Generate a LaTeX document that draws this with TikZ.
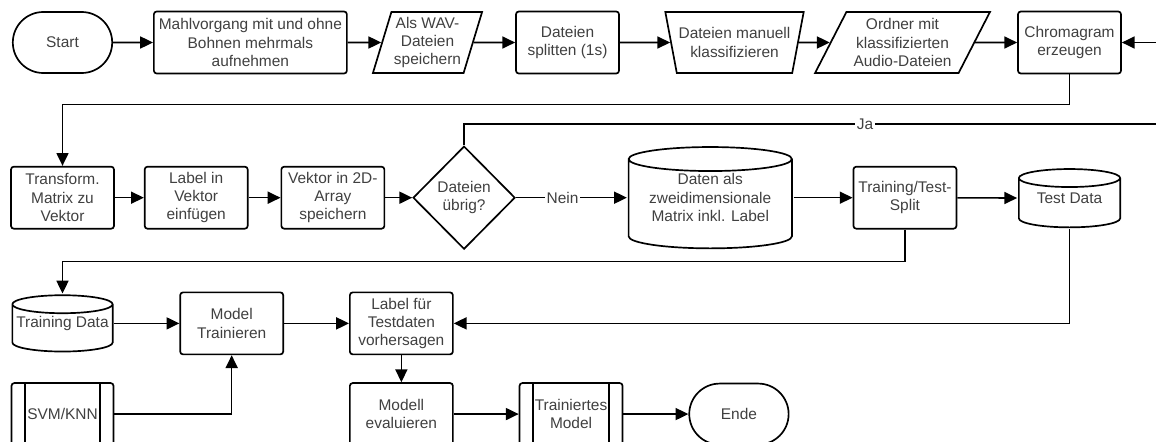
\documentclass[tikz,border=0pt]{standalone}
\usepackage{fontspec}
\setmainfont{Liberation Sans}
\usetikzlibrary{
    arrows.meta,
    calc,
    positioning,
    shapes.geometric,
    shapes.misc
}
\tikzstyle{base} = [draw=black, line width=1.2pt, text=black!75, font=\fontsize{11}{13}\selectfont, align=center, inner sep=2pt]
\tikzstyle{term} = [base, rounded rectangle, minimum width=2.625cm, minimum height=1.525cm]
\tikzstyle{proc} = [base, rectangle, rounded corners=2pt, minimum width=2.575cm, minimum height=1.55cm]
\tikzstyle{io} = [base, trapezium, trapezium stretches=true, minimum height=1.525cm]
\tikzstyle{manual} = [base, trapezium, trapezium stretches=true, trapezium left angle=105.6, trapezium right angle=105.6, minimum width=3.475cm, minimum height=1.525cm, inner xsep=-0.16cm]
\tikzstyle{decide} = [base, diamond, minimum width=2.55cm, minimum height=2.575cm, inner sep=0pt]
\tikzstyle{subproc} = [proc, path picture={
    \draw[line width=1.2pt] ([xshift=0.34cm]path picture bounding box.north west) -- ([xshift=0.34cm]path picture bounding box.south west);
    \draw[line width=1.2pt] ([xshift=-0.34cm]path picture bounding box.north east) -- ([xshift=-0.34cm]path picture bounding box.south east);
}]
\tikzstyle{flow} = [line width=1.1pt, -{Triangle[length=3.2mm, width=3mm]}]
\tikzstyle{flowlabel} = [fill=white, inner sep=1pt, text=black!75, font=\fontsize{11}{13}\selectfont]
\tikzset{store/.style={base, draw=none, rectangle, path picture={
    \draw[line width=1.2pt] let \p1 = (path picture bounding box.north west), \p2 = (path picture bounding box.south east), \n1 = {(\x2-\x1)/2-0.6pt} in
        (\x1+0.6pt, \y1-#1-0.6pt) -- (\x1+0.6pt, \y2+#1+0.6pt)
        arc[start angle=180, end angle=360, x radius=\n1, y radius=#1]
        -- (\x2-0.6pt, \y1-#1-0.6pt)
        arc[start angle=0, end angle=360, x radius=\n1, y radius=#1];
}}}

\begin{document}
\begin{tikzpicture}
    \useasboundingbox (0,0) rectangle (28.9,-11.025);
    \clip (0,0) rectangle (28.9,-11.025);

    \node[term] (start) at (1.5625,-1.0625) {Start};
    \node[proc, minimum width=4.825cm] (mahl) [node distance=1cm, right=of start] {Mahlvorgang mit und ohne\\Bohnen mehrmals\\aufnehmen};
    \node[io, minimum width=2.75cm, trapezium left angle=71.8, trapezium right angle=108.2] (wav) at (10.6875,-1.0625) {Als WAV-\\Dateien\\speichern};
    \node[proc] (split) at (14.1875,-1.0625) {Dateien\\splitten (1s)};
    \node[manual] (manuell) at (18.3625,-1.0625) {Dateien manuell\\klassifizieren};
    \node[io, minimum width=4.375cm, trapezium left angle=61.6, trapezium right angle=118.4] (ordner) at (22.5625,-1.0625) {Ordner mit\\klassifizierten\\Audio-Dateien};
    \node[proc] (chroma) at (26.7375,-1.0625) {Chromagram\\erzeugen};

    \node[proc] (trans) [node distance=2.3cm, below=of start] {Transform.\\Matrix zu\\Vektor};
    \node[proc] (labvek) [node distance=0.725cm, right=of trans] {Label in\\Vektor\\einfügen};
    \node[proc] (vek2d) [node distance=0.8cm, right=of labvek] {Vektor in 2D-\\Array\\speichern};
    \node[decide] (dateien) [node distance=0.675cm, right=of vek2d] {Dateien\\übrig?};
    \node[store=0.3cm, minimum width=4.125cm, minimum height=2.575cm] (daten) [node distance=2.775cm, right=of dateien] {Daten als\\zweidimensionale\\Matrix inkl. Label};
    \node[proc] (ttsplit) [node distance=1.475cm, right=of daten] {Training/Test-\\Split};
    \node[store=0.225cm, minimum width=2.575cm, minimum height=1.5cm] (testd) [node distance=2.325cm, below=of chroma] {Test Data};

    \node[store=0.225cm, minimum width=2.55cm, minimum height=1.45cm] (traind) [node distance=1.6cm, below=of trans] {Training Data};
    \node[proc] (trainm) [node distance=1.625cm, right=of traind] {Model\\Trainieren};
    \node[proc] (predict) [node distance=1.625cm, right=of trainm] {Label für\\Testdaten\\vorhersagen};

    \node[subproc, minimum width=2.55cm] (svm) [node distance=0.725cm, below=of traind] {SVM/KNN};
    \node[proc] (evalm) [node distance=0.675cm, below=of predict] {Modell\\evaluieren};
    \node[subproc] (trmodel) [node distance=1.625cm, right=of evalm] {Trainiertes\\Model};
    \node[term] (ende) [node distance=1.625cm, right=of trmodel] {Ende};

    \coordinate (jaturn) at (29.5,-3.1);

    \foreach \a / \b in {start/mahl, mahl/wav, wav/split, split/manuell, manuell/ordner, ordner/chroma, trans/labvek, labvek/vek2d, vek2d/dateien, daten/ttsplit, ttsplit/testd, traind/trainm, trainm/predict, predict/evalm, evalm/trmodel, trmodel/ende}{
    \draw[flow] (\a) -- (\b);
    }

    \draw[flow] (dateien) -- node[flowlabel, pos=0.42]{Nein} (daten);
    \draw[flow] (dateien.north) |- node[flowlabel, pos=0.78]{Ja} (jaturn) |- (chroma.east);
    \draw[flow] (chroma.south) -- ++(0,-0.75) -| (trans.north);
    \draw[flow] (ttsplit.south) -- ++(0,-0.8) -| (traind.north);
    \draw[flow] (testd.south) |- (predict.east);
    \draw[flow] (svm.east) -| (trainm.south);
\end{tikzpicture}
\end{document}
